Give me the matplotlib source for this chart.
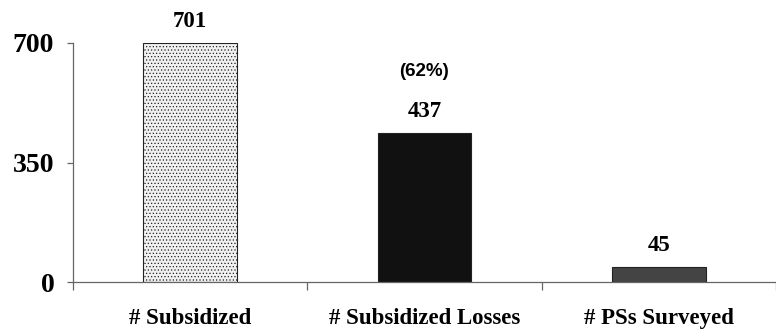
import matplotlib.pyplot as plt

# data
categories = ['# Subsidized', '# Subsidized Losses', '# PSs Surveyed']
counts = [701, 437, 45]
value_labels = ['701', '437', '45']
share_label = '(62%)'
yticks = [0, 350, 700]

colors = ['#f0f0f0', '#111111', '#444444']

plt.rcParams['font.family'] = 'Liberation Serif'
plt.rcParams['font.weight'] = 'bold'
plt.rcParams['hatch.color'] = '#a8a8a8'
plt.rcParams['hatch.linewidth'] = 0.5

fig = plt.figure(figsize=(7.76, 3.31), dpi=100)
ax = fig.add_axes([73 / 776, 49 / 331, 1 - 73 / 776, 239 / 331])

x = list(range(len(categories)))
bars = ax.bar(x, counts, width=0.4, color=colors, edgecolor='#222222', linewidth=0.8)
bars[0].set_hatch('.....')

ax.set_xlim(-0.5, 2.46)
ax.set_ylim(0, 700)

for i, b in enumerate(bars):
    ax.annotate(value_labels[i], (b.get_x() + b.get_width() / 2, counts[i]),
                xytext=(0, 15), textcoords='offset points',
                ha='center', va='center', fontsize=16.5, fontweight='bold')

# percentage note above the second bar
ax.annotate(share_label, (1, counts[1]), xytext=(0, 44), textcoords='offset points',
            ha='center', va='center', fontsize=13.5, fontweight='bold',
            family='Liberation Sans')

# spines
for s in ['top', 'right']:
    ax.spines[s].set_visible(False)
for s in ['left', 'bottom']:
    ax.spines[s].set_color('#666666')
    ax.spines[s].set_linewidth(0.9)

ax.set_yticks(yticks)
ax.set_yticklabels([str(v) for v in yticks], fontsize=20, fontweight='bold')
ax.tick_params(axis='y', length=4.5, width=0.9, color='#666666', pad=9)

# category separators as major ticks, labels on minor ticks at bar centres
ax.set_xticks([-0.5, 0.5, 1.5, 2.5])
ax.set_xticklabels([])
ax.tick_params(axis='x', which='major', length=6, width=0.9, color='#666666')
ax.set_xticks(x, minor=True)
ax.set_xticklabels(categories, minor=True, fontsize=16.5, fontweight='bold')
ax.tick_params(axis='x', which='minor', length=0, pad=19)

fig.savefig('out.png', dpi=100)
